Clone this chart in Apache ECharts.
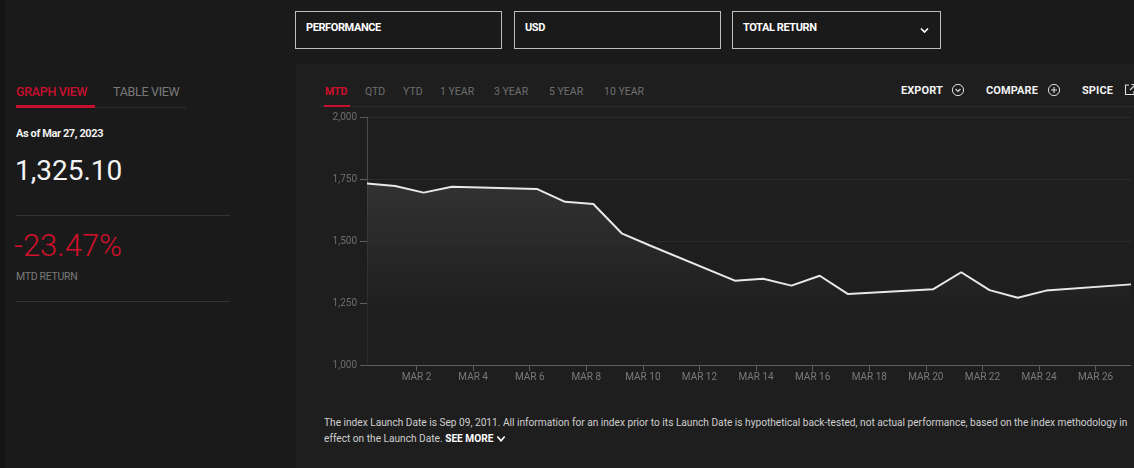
<!DOCTYPE html>
<html>
<head>
<meta charset="utf-8">
<script src="https://cdn.jsdelivr.net/npm/echarts@6/dist/echarts.min.js"></script>
<style>
  html, body { margin:0; padding:0; width:1134px; height:468px; background:#1a1a1a; overflow:hidden; font-family: Roboto, "Liberation Sans", sans-serif; }
  .abs { position:absolute; white-space:nowrap; }
  .narrow { font-family: Roboto, "Liberation Sans", sans-serif; }
  .box { position:absolute; top:11px; height:38px; border:1px solid #bdbdbd; box-sizing:border-box; }
  .box span { position:absolute; left:10px; top:9px; color:#fff; font-size:11px; font-weight:bold; letter-spacing:-0.4px; }
  .tab { position:absolute; top:85px; font-size:10.5px; color:#6f6f6f; }
  .act { position:absolute; top:84px; font-size:11px; color:#f2f2f2; font-weight:bold; letter-spacing:0.1px; }
  .sep { position:absolute; height:1px; background:#333; }
  .fit { transform-origin: 0 0; }
</style>
</head>
<body>
<div class="abs" style="left:0;top:0;width:5px;height:468px;background:#151515"></div>
<div class="abs" style="left:296px;top:64px;width:838px;height:404px;background:#1e1e1e"></div>

<div class="box narrow" style="left:295px;width:207px;"><span>PERFORMANCE</span></div>
<div class="box narrow" style="left:514px;width:207px;"><span>USD</span></div>
<div class="box narrow" style="left:732px;width:209px;"><span>TOTAL RETURN</span>
  <svg style="position:absolute;left:187px;top:15px" width="9" height="7" viewBox="0 0 9 7"><path d="M1 1.5 L4.5 5 L8 1.5" stroke="#fff" stroke-width="1.6" fill="none"/></svg>
</div>

<!-- left panel -->
<div class="abs narrow" style="left:16px;top:84px;font-size:12.5px;color:#c8102e;font-weight:500;letter-spacing:-0.3px;">GRAPH VIEW</div>
<div class="abs narrow" style="left:113px;top:84px;font-size:12.5px;color:#7a7a7a;letter-spacing:-0.3px;">TABLE VIEW</div>
<div class="sep" style="left:16px;top:107px;width:170px;background:#2e2e2e"></div>
<div class="abs" style="left:16px;top:105px;width:79px;height:3px;background:#c8102e"></div>
<div class="abs narrow" style="left:16px;top:127px;font-size:11px;color:#f0f0f0;font-weight:bold;letter-spacing:-0.4px;">As of Mar 27, 2023</div>
<div class="abs" style="left:15px;top:154px;font-size:28px;color:#f4f4f4;">1,325.10</div>
<div class="sep" style="left:16px;top:215px;width:214px;"></div>
<div class="abs" style="left:14px;top:227px;font-size:31px;color:#d1102b;font-weight:300;">-23.47%</div>
<div class="abs narrow" style="left:16px;top:270px;font-size:10.5px;color:#7a7a7a;letter-spacing:-0.3px;">MTD RETURN</div>
<div class="sep" style="left:16px;top:301px;width:214px;"></div>

<!-- chart panel header -->
<div class="tab narrow" style="left:325px;color:#d1102b;font-weight:bold;">MTD</div>
<div class="tab narrow" style="left:365px;">QTD</div>
<div class="tab narrow" style="left:403px;">YTD</div>
<div class="tab narrow" style="left:440px;">1 YEAR</div>
<div class="tab narrow" style="left:494px;">3 YEAR</div>
<div class="tab narrow" style="left:549px;">5 YEAR</div>
<div class="tab narrow" style="left:604px;">10 YEAR</div>
<div class="sep" style="left:320px;top:106px;width:814px;background:#2c2c2c"></div>
<div class="abs" style="left:324px;top:105px;width:26px;height:2px;background:#c8102e"></div>

<div class="act narrow" style="left:901px;">EXPORT</div>
<svg class="abs" style="left:951px;top:83px" width="14" height="14" viewBox="0 0 14 14"><circle cx="7" cy="7" r="5.6" stroke="#ddd" stroke-width="1" fill="none"/><path d="M4.6 6 L7 8.4 L9.4 6" stroke="#ddd" stroke-width="1.1" fill="none"/></svg>
<div class="act narrow" style="left:986px;">COMPARE</div>
<svg class="abs" style="left:1047px;top:83px" width="14" height="14" viewBox="0 0 14 14"><circle cx="7" cy="7" r="5.6" stroke="#ddd" stroke-width="1" fill="none"/><path d="M7 4 V10 M4 7 H10" stroke="#ddd" stroke-width="1.1" fill="none"/></svg>
<div class="act narrow" style="left:1082px;">SPICE</div>
<svg class="abs" style="left:1124px;top:83px" width="12" height="13" viewBox="0 0 12 13"><path d="M5 2 H1.5 V11.5 H10 V8" stroke="#ddd" stroke-width="1.1" fill="none"/><path d="M6 7 L11 2 M7.5 1.5 H11.5 V5.5" stroke="#ddd" stroke-width="1.1" fill="none"/></svg>

<div id="chart" class="abs" style="left:296px;top:100px;width:838px;height:300px;"></div>

<div id="fn1" class="abs fit" style="left:324px;top:416px;font-size:11px;color:#cfcfcf;">The index Launch Date is Sep 09, 2011. All information for an index prior to its Launch Date is hypothetical back-tested, not actual performance, based on the index methodology in</div>
<div id="fn2" class="abs fit" style="left:324px;top:432px;font-size:11px;color:#cfcfcf;">effect on the Launch Date. <b style="color:#fff">SEE MORE</b>
  <svg style="vertical-align:-1px" width="10" height="8" viewBox="0 0 10 8"><path d="M1 1.5 L5 5.8 L9 1.5" stroke="#fff" stroke-width="1.8" fill="none"/></svg>
</div>

<script>
// ---- data ----
const dates = ['2023-02-28','2023-03-01','2023-03-02','2023-03-03','2023-03-06','2023-03-07','2023-03-08',
  '2023-03-09','2023-03-10','2023-03-13','2023-03-14','2023-03-15','2023-03-16','2023-03-17',
  '2023-03-20','2023-03-21','2023-03-22','2023-03-23','2023-03-24','2023-03-27'];
const values = [1731.4, 1722, 1695, 1719, 1710, 1658, 1649,
  1531, 1482, 1340, 1348, 1320, 1360, 1286,
  1305, 1374, 1302, 1271, 1300, 1325.1];
const tickDates = ['2023-03-02','2023-03-04','2023-03-06','2023-03-08','2023-03-10','2023-03-12','2023-03-14',
  '2023-03-16','2023-03-18','2023-03-20','2023-03-22','2023-03-24','2023-03-26'];
const yTicks = [1000, 1250, 1500, 1750, 2000];
const closeTime = 'T06:00:00Z'; // index values are stamped a few hours after midnight
const monthNames = ['JAN','FEB','MAR','APR','MAY','JUN','JUL','AUG','SEP','OCT','NOV','DEC'];

// fit footnote to the panel width
(function () {
  const a = document.getElementById('fn1'), b = document.getElementById('fn2');
  const s = 803 / a.scrollWidth;
  a.style.transform = 'scaleX(' + s + ')';
  b.style.transform = 'scaleX(' + s + ')';
})();

const seriesData = dates.map((d, i) => [Date.parse(d + closeTime), values[i]]);
const tickTimes = tickDates.map(d => Date.parse(d + 'T00:00:00Z'));

const chart = echarts.init(document.getElementById('chart'), null, { renderer: 'canvas' });
chart.setOption({
  backgroundColor: 'transparent',
  animation: false,
  grid: { left: 71, right: 3, top: 17, bottom: 35 },
  xAxis: {
    type: 'value',
    min: seriesData[0][0],
    max: seriesData[seriesData.length - 1][0],
    axisLine: { show: true, lineStyle: { color: '#5e5e5e', width: 1 } },
    axisTick: { show: true, customValues: tickTimes, length: 6, lineStyle: { color: '#5e5e5e' } },
    axisLabel: {
      customValues: tickTimes,
      margin: 7,
      color: '#7a7a7a',
      fontSize: 10,
      fontFamily: 'Roboto, sans-serif',
      formatter: v => { const dt = new Date(v); return monthNames[dt.getUTCMonth()] + ' ' + dt.getUTCDate(); }
    },
    splitLine: { show: false }
  },
  yAxis: {
    type: 'value',
    min: yTicks[0],
    max: yTicks[yTicks.length - 1],
    interval: 250,
    axisLine: { show: true, lineStyle: { color: '#4a4a4a' } },
    axisTick: { show: true, length: 7, lineStyle: { color: '#5e5e5e' } },
    axisLabel: {
      margin: 10,
      color: '#6e6e6e',
      fontSize: 10,
      fontFamily: 'Roboto, sans-serif',
      formatter: v => v.toLocaleString('en-US')
    },
    splitLine: { show: true, lineStyle: { color: '#2a2a2a', width: 1 } }
  },
  series: [{
    type: 'line',
    data: seriesData,
    showSymbol: false,
    symbol: 'none',
    lineStyle: { color: '#e8e8e8', width: 2 },
    areaStyle: {
      color: new echarts.graphic.LinearGradient(0, 0, 0, 1, [
        { offset: 0, color: '#3a3a3a' },
        { offset: 0.7, color: '#1f1f1f' },
        { offset: 1, color: '#1e1e1e' }
      ])
    }
  }]
});
</script>
</body>
</html>
